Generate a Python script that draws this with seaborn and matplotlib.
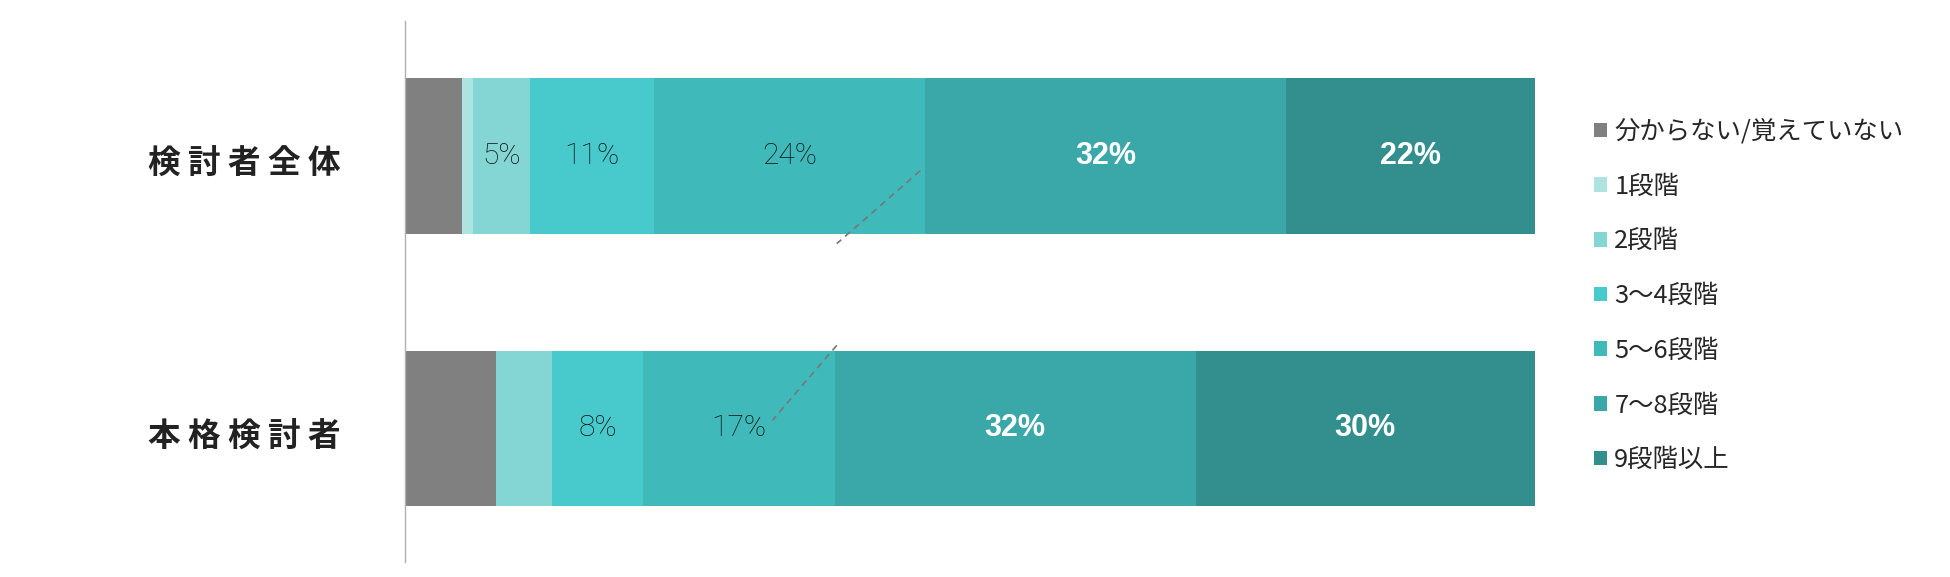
import matplotlib
matplotlib.use("Agg")
import matplotlib.pyplot as plt
from matplotlib.patches import Patch
from matplotlib.transforms import ScaledTranslation
import numpy as np
import pandas as pd
import seaborn as sns

# -------------- data --------------
groups = ["検 討 者 全 体", "本 格 検 討 者"]
levels = ["分からない/覚えていない", "1段階", "2段階", "3～4段階", "5～6段階", "7～8段階", "9段階以上"]
colors = ["#808080", "#aee3e0", "#84d6d5", "#48cacc", "#40b9ba", "#3aa7a8", "#328f8d"]

share_all = [5, 1, 5, 11, 24, 32, 22]
share_serious = [8, 0, 5, 8, 17, 32, 30]

# which segments get a label: 0 = none, 1 = dark thin, 2 = white bold
label_all = [0, 0, 1, 1, 1, 2, 2]
label_serious = [0, 0, 0, 1, 1, 2, 2]

df = pd.DataFrame({
    "group": np.repeat(groups, len(levels)),
    "level": levels * len(groups),
    "share": share_all + share_serious,
    "label": label_all + label_serious,
})
df["cum"] = df.groupby("group", sort=False)["share"].cumsum()

sns.set_style("white")
plt.rcParams["font.family"] = ["Noto Sans CJK JP", "DejaVu Sans"]

fig = plt.figure(figsize=(19.5, 5.77), dpi=100)
ax = fig.add_axes([0.2079, 0.026, 0.5791, 0.9376])

# stacked bars: draw cumulative totals from the last level backwards
for lev, col in reversed(list(zip(levels, colors))):
    sub = df[df["level"] == lev]
    sns.barplot(data=sub, x="cum", y="group", order=groups, color=col,
                width=0.572, saturation=1, orient="h", ax=ax, linewidth=0)

# segment labels
for _, r in df.iterrows():
    if r["label"] == 0:
        continue
    yi = groups.index(r["group"])
    xc = r["cum"] - r["share"] / 2
    if r["label"] == 1:
        ax.text(xc, yi, f"{r['share']}%", ha="center", va="center",
                fontsize=21.5, color="#141414", family="Roboto", fontweight="light")
    else:
        ax.text(xc, yi, f"{r['share']}%", ha="center", va="center",
                fontsize=22, color="white", family="Liberation Sans", fontweight="bold")

# dashed connector lines around the 5~6 boundary
b_top = df[(df["group"] == groups[0]) & (df["level"] == levels[4])]["cum"].iloc[0]
b_bot = df[(df["group"] == groups[1]) & (df["level"] == levels[4])]["cum"].iloc[0]
ax.plot([b_top - 0.4, b_bot + 0.2], [0.054, 0.322], ls=(0, (4, 3)), color="#777777", lw=1.2)
ax.plot([b_bot + 0.2, b_bot - 5.5], [0.695, 0.97], ls=(0, (4, 3)), color="#777777", lw=1.2)

ax.set_xlim(0, 100)
ax.set_ylim(1.49, -0.495)
ax.set_xlabel("")
ax.set_ylabel("")
ax.set_xticks([])
for s in ["top", "right", "bottom"]:
    ax.spines[s].set_visible(False)
ax.spines["left"].set_color("#b0b0b0")
ax.spines["left"].set_linewidth(1.0)
ax.tick_params(axis="y", length=0, pad=47)
shift = ScaledTranslation(0, -5 / 100, fig.dpi_scale_trans)
for t in ax.get_yticklabels():
    t.set_fontsize(23.5)
    t.set_fontweight("bold")
    t.set_color("#222222")
    t.set_transform(t.get_transform() + shift)

# legend
handles = [Patch(facecolor=c, edgecolor="none", label=l) for l, c in zip(levels, colors)]
fig.legend(handles=handles, loc="center left", bbox_to_anchor=(0.8174, 0.487),
           frameon=False, fontsize=18.3, handlelength=0.5, handleheight=0.5,
           handletextpad=0.3, labelspacing=1.13, borderpad=0, borderaxespad=0,
           labelcolor="#262626")

plt.savefig("out.png", dpi=100)
plt.close()
